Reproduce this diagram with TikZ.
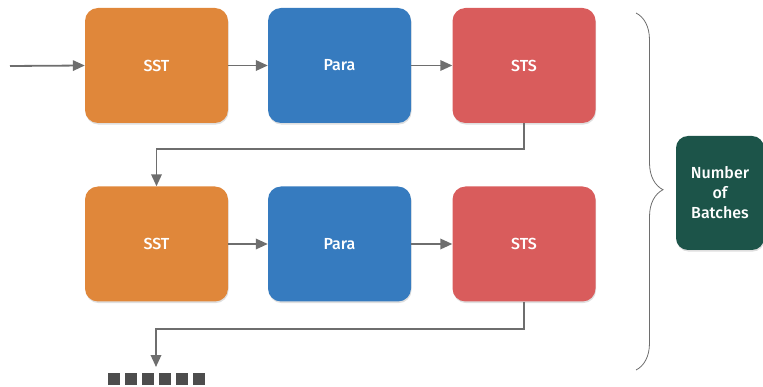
\documentclass[tikz,border=0pt]{standalone}
\usepackage{fontspec}
\setmainfont{Fira Sans}[UprightFont=* Medium]
\usetikzlibrary{arrows.meta,shadows,decorations.pathreplacing,calc}
\definecolor{cOrange}{HTML}{E0873A}
\definecolor{cBlue}{HTML}{367BBF}
\definecolor{cRed}{HTML}{D95C5C}
\definecolor{cGreen}{HTML}{1C5449}
\definecolor{cLine}{HTML}{6E6E6E}
\definecolor{cDot}{HTML}{4D4D4D}
\begin{document}
\begin{tikzpicture}[x=1pt,y=-1pt,
  blockbox/.style={rounded corners=13pt, minimum width=143pt, minimum height=115pt,
    text=white, font=\fontsize{16}{18}\selectfont, inner sep=0pt,
    drop shadow={opacity=0.25, shadow xshift=0.6pt, shadow yshift=-1.6pt}},
  arr/.style={draw=cLine, line width=1.8pt, -{Triangle[length=12pt,width=10.5pt]}},
  dotbox/.style={fill=cDot, minimum width=12pt, minimum height=12pt, inner sep=0pt}
]
\useasboundingbox (0,0) rectangle (763,387);
% row 1
\node[blockbox, fill=cOrange] (sst1) at (156.5,65.5) {SST};
\node[blockbox, fill=cBlue] (para1) at (339.5,65.5) {Para};
\node[blockbox, fill=cRed] (sts1) at (524,65.5) {STS};
% row 2
\node[blockbox, fill=cOrange] (sst2) at (156.5,244) {SST};
\node[blockbox, fill=cBlue] (para2) at (339.5,244) {Para};
\node[blockbox, fill=cRed] (sts2) at (524,244) {STS};
% green box
\node[rounded corners=12pt, fill=cGreen, minimum width=88pt, minimum height=114pt,
  text=white, align=center, font=\fontsize{16}{20}\selectfont, inner sep=0pt,
  drop shadow={opacity=0.25, shadow xshift=0.6pt, shadow yshift=-1.6pt}]
  (nb) at (720,193) {Number\\of\\Batches};
% dots
\foreach \i in {1,...,6} {
  \node[dotbox] (d\i) at ({114+(\i-1)*16.9},379) {};
}
% connectors
\coordinate (in) at (10,66);
\coordinate (tail) at (156,367);
\draw[arr] (in) -- (sst1.west);
\draw[arr] (sst1.east) -- (para1.west);
\draw[arr] (para1.east) -- (sts1.west);
\draw[arr] (sst2.east) -- (para2.west);
\draw[arr] (para2.east) -- (sts2.west);
\draw[arr] (sts1.south) -- ++(0,26) -| (sst2.north);
\draw[arr] (sts2.south) -- ++(0,27) -| (tail);
% brace
\draw[cLine, line width=0.8pt, decorate, decoration={brace, amplitude=27pt, aspect=0.495}]
  (636,13) -- (636,370);
\end{tikzpicture}
\end{document}
